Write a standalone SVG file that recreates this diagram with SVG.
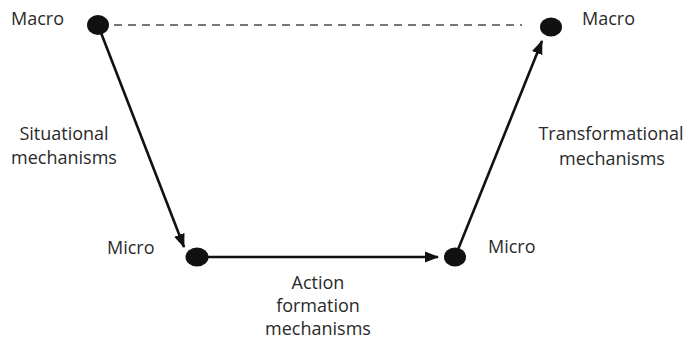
<svg xmlns="http://www.w3.org/2000/svg" width="691" height="340" viewBox="0 0 691 340">
  <style>
    .lbl { font-family: "Open Sans", "Noto Sans", sans-serif; font-size: 18px; fill: #2a2a2a; }
    .mid { text-anchor: middle; }
    .dot { fill: #111; }
    .link { stroke: #111; stroke-width: 2.6; fill: none; }
    .dash { stroke: #777; stroke-width: 2.2; stroke-dasharray: 8 6; fill: none; }
  </style>
  <defs>
    <marker id="arrow" markerUnits="userSpaceOnUse" markerWidth="14" markerHeight="12" viewBox="0 0 14 12" refX="13" refY="6" orient="auto">
      <path d="M0,0.5 L14,6 L0,11.5 Z" fill="#111"/>
    </marker>
  </defs>

  <g id="connectors">
    <line class="dash" x1="114" y1="25" x2="522" y2="25"/>
    <line class="link" x1="98" y1="25" x2="184" y2="247" marker-end="url(#arrow)"/>
    <line class="link" x1="197" y1="257" x2="438" y2="257" marker-end="url(#arrow)"/>
    <line class="link" x1="455" y1="257" x2="542" y2="41" marker-end="url(#arrow)"/>
  </g>

  <g id="macro-left">
    <ellipse class="dot" cx="98" cy="25" rx="11" ry="10"/>
    <text class="lbl" x="11" y="25">Macro</text>
  </g>
  <g id="macro-right">
    <ellipse class="dot" cx="551" cy="27" rx="11" ry="9.5"/>
    <text class="lbl" x="582" y="25">Macro</text>
  </g>
  <g id="micro-left">
    <ellipse class="dot" cx="197" cy="257" rx="11.5" ry="9.5"/>
    <text class="lbl" x="107" y="254">Micro</text>
  </g>
  <g id="micro-right">
    <ellipse class="dot" cx="455" cy="257" rx="11" ry="9.5"/>
    <text class="lbl" x="488" y="253">Micro</text>
  </g>

  <g id="situational">
    <text class="lbl mid" x="64" y="140">Situational</text>
    <text class="lbl mid" x="64" y="164">mechanisms</text>
  </g>
  <g id="action-formation">
    <text class="lbl mid" x="318" y="289">Action</text>
    <text class="lbl mid" x="318" y="312">formation</text>
    <text class="lbl mid" x="318" y="335">mechanisms</text>
  </g>
  <g id="transformational">
    <text class="lbl mid" x="611" y="140">Transformational</text>
    <text class="lbl mid" x="612" y="165">mechanisms</text>
  </g>
</svg>
